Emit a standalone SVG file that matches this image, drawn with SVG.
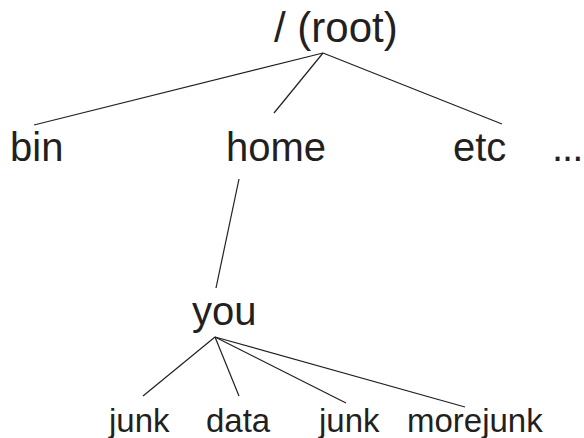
<svg xmlns="http://www.w3.org/2000/svg" width="584" height="438" viewBox="0 0 584 438">
<style>
.t{font-family:"Liberation Sans",Arial,Helvetica,sans-serif;fill:#231f20}
.big{font-size:40px}
.small{font-size:33px}
.c line{stroke:#231f20;stroke-width:1.2;fill:none}
</style>
<rect width="584" height="438" fill="#fff"/>
<g class="c" id="connectors">
<line x1="323" y1="53" x2="34" y2="125"/>
<line x1="323" y1="53" x2="274" y2="113"/>
<line x1="323" y1="53" x2="502" y2="124"/>
<line x1="239" y1="179" x2="216" y2="288"/>
<line x1="215" y1="337" x2="143" y2="396"/>
<line x1="215" y1="337" x2="239" y2="396"/>
<line x1="215" y1="337" x2="346" y2="403"/>
<line x1="215" y1="337" x2="465" y2="407"/>
</g>
<g id="root"><text class="t" x="274" y="42" style="font-size:42px">/ (root)</text></g>
<g id="bin"><text class="t big" x="10" y="161">bin</text></g>
<g id="home"><text class="t big" x="226" y="161">home</text></g>
<g id="etc"><text class="t big" x="453" y="161">etc</text></g>
<g id="more"><text class="t big" x="552" y="161" letter-spacing="-1">...</text></g>
<g id="you"><text class="t big" x="192" y="325">you</text></g>
<g id="junk1"><text class="t small" x="109" y="432">junk</text></g>
<g id="data"><text class="t small" x="206" y="432">data</text></g>
<g id="junk2"><text class="t small" x="319" y="432">junk</text></g>
<g id="morejunk"><text class="t small" x="407" y="432">morejunk</text></g>
</svg>
